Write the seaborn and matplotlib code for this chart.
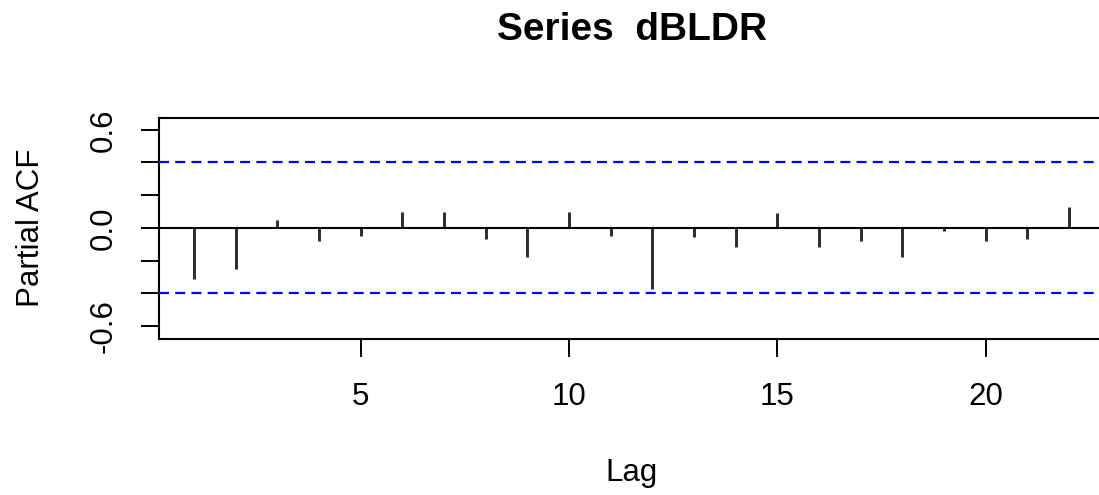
import numpy as np
import pandas as pd
import seaborn as sns
import matplotlib
matplotlib.use("Agg")
import matplotlib.pyplot as plt

# ---- data ----
lags = [1, 2, 3, 4, 5, 6, 7, 8, 9, 10, 11, 12, 13, 14, 15, 16, 17, 18, 19, 20, 21, 22]
pacf = [-0.314, -0.253, 0.051, -0.081, -0.047, 0.098, 0.098, -0.071, -0.181, 0.098,
        -0.047, -0.377, -0.059, -0.120, 0.088, -0.120, -0.083, -0.181, -0.022, -0.081,
        -0.071, 0.125]
ci_bound = 0.40
y_ticks = [-0.6, -0.4, -0.2, 0.0, 0.2, 0.4, 0.6]
y_tick_labels = ["-0.6", "", "", "0.0", "", "", "0.6"]
x_ticks = [5, 10, 15, 20]
title = "Series  dBLDR"
xlabel = "Lag"
ylabel = "Partial ACF"

sns.set_theme(style="white")
plt.rcParams["font.family"] = ["Liberation Sans", "DejaVu Sans"]

W, H = 1099, 495
fig = plt.figure(figsize=(W / 100, H / 100), dpi=100)
fig.patch.set_facecolor("white")

def px(x0, y0, x1, y1):
    return [x0 / W, 1 - y1 / H, (x1 - x0) / W, (y1 - y0) / H]

ax = fig.add_axes(px(159, 118, 1104, 338.5))
ax.set_facecolor("white")

df = pd.DataFrame({"lag": lags, "pacf": pacf})
sns.barplot(data=df, x="lag", y="pacf", native_scale=True, width=0.001,
            color="#2a2a2a", saturation=1, linewidth=2.1,
            edgecolor="#2a2a2a", ax=ax)
for p in ax.patches:
    p.set_joinstyle("round")

ax.axhline(0, color="black", lw=1.5, zorder=3)
for b in (ci_bound, -ci_bound):
    ax.axhline(b, color="#0000ff", lw=1.6, ls=(0, (4.5, 2.8)), zorder=3)

ax.set_xlim(0.16, 22.84)
ax.set_ylim(-0.677, 0.672)

ax.set_xticks(x_ticks)
ax.set_xticklabels([str(t) for t in x_ticks])
ax.set_yticks(y_ticks)
ax.set_yticklabels(y_tick_labels, rotation=90, va="center")

ax.tick_params(axis="both", which="major", direction="out", length=13,
               width=1.4, color="black", labelsize=22.5, labelcolor="black")
ax.tick_params(axis="x", pad=18)
ax.tick_params(axis="y", pad=16)
ax.xaxis.set_ticks_position("bottom")
ax.yaxis.set_ticks_position("left")

for s in ax.spines.values():
    s.set_visible(True)
    s.set_color("black")
    s.set_linewidth(1.5)

ax.set_xlabel("")
ax.set_ylabel("")

fig.text(632 / W, 1 - 30 / H, title, ha="center", va="center",
         fontsize=28, fontweight="bold", color="black")
fig.text(632 / W, 1 - 473 / H, xlabel, ha="center", va="center",
         fontsize=22.5, color="black")
fig.text(31 / W, 1 - 228 / H, ylabel, ha="center", va="center",
         fontsize=22.5, color="black", rotation=90)

fig.savefig("out.png", dpi=100, facecolor="white")
